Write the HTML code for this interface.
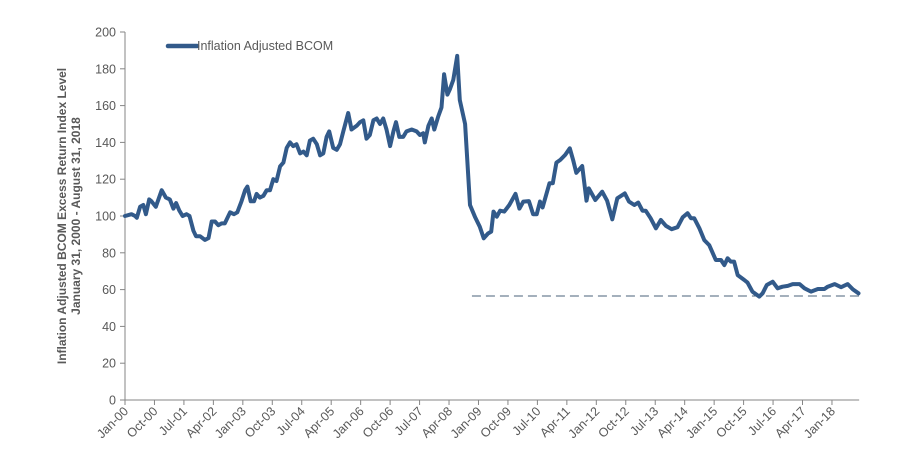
<!DOCTYPE html>
<html><head><meta charset="utf-8"><style>
html,body{margin:0;padding:0;background:#fff}
svg text{font-family:"Liberation Sans",sans-serif;fill:#595959}
</style></head><body>
<svg id="chart" width="920" height="467" viewBox="0 0 920 467" xmlns="http://www.w3.org/2000/svg">
<g id="axes"></g>
<g id="series"></g>
<g>
<line x1="168" y1="46" x2="197" y2="46" stroke="#325a8a" stroke-width="4.5" stroke-linecap="round"/>
<text x="197" y="50" font-size="12.5">Inflation Adjusted BCOM</text>
</g>
<text transform="translate(66,216) rotate(-90)" text-anchor="middle" font-size="12" font-weight="bold">Inflation Adjusted BCOM Excess Return Index Level</text>
<text transform="translate(80,216) rotate(-90)" text-anchor="middle" font-size="12" font-weight="bold">January 31, 2000 - August 31, 2018</text>
</svg>
<script>
const months=[0,2,3.1,3.6,4.6,5.6,6.4,7.4,8.1,9.4,11.2,12.5,13.7,14.8,15.6,16.6,17.6,18.8,19.7,20.9,21.7,22.9,24.4,25.5,26.5,27.5,28.5,29.5,30.5,32.1,33.3,34.3,35.6,36.7,37.4,38.4,39.4,40.2,41.2,42.3,43.3,44.3,45.3,46.3,47.4,48.4,49.4,50.4,51.4,52.4,53.5,54.5,55.5,56.5,57.5,58.6,59.6,60.6,61.6,62.4,63.6,64.7,65.7,66.7,68.2,69.2,70.8,71.8,72.8,73.8,74.8,75.9,76.9,77.9,78.9,79.9,81,82,82.8,83.8,85,86,87.6,89.1,90.1,91.1,91.6,92.7,93.7,94.5,95.7,96.7,97.5,98.5,99.3,100.3,101.5,102.3,103.9,105.4,106.9,108.4,109.6,110.9,111.9,112.6,113.6,114.6,115.9,117.4,119.3,120.5,121.7,123.4,124.7,125.8,126.8,127.6,129.7,130.7,131.8,133,134.5,135.9,136.9,137.9,139.7,141,141.7,143.7,145.8,147.3,148.9,150.4,152.7,154,155.6,156.8,158.1,159.1,160.6,162.2,163.7,165.3,167,168.8,170.4,171.9,172.9,173.9,175.5,177,178.5,180.5,182.1,183.1,184.1,185.1,186.1,187.2,189.2,190.2,191.7,193.8,194.8,196.1,197.9,199.4,200.9,202.5,204,206.1,207.6,209.6,211.7,213.7,214.7,216.8,218.8,220.8,222.4,224.1];
const values=[100,101,100,99,105,106,101,109,108,105,114,110,109,104,107,103,100,101,100,92,89,89,87,88,97,97,95,96,96,102,101,102,108,114,116,108,108,112,110,111,114,114,120,119,127,129,137,140,138,139,134,135,133,141,142,139,133,134,143,146,137,136,139,146,156,147,149,151,152,142,144,152,153,150,153,147,138,146,151,143,143,146,147,146,144,145,140,149,153,147,154,159,177,166,169,174,187,163,150,106,99.6,94.2,87.9,90.5,91.5,102.4,99.6,102.9,102.4,106,112,104,107.8,108.1,101,101,107.8,104.7,117.8,117.8,129,130.5,133.2,136.8,130.5,123.5,127.2,108.3,115,108.7,113.2,108.3,98.2,109.6,112.3,107.8,106,107.3,102.9,102.9,98.8,93.3,97.8,94.6,92.8,93.9,99.3,101.5,98.8,98.8,93.3,86.9,84.2,76.1,76.1,73.3,77,75.2,75.2,67.9,65.2,63.8,58.9,56.2,58,62.5,64.3,60.7,61.6,62,63,63,60.7,58.9,60.3,60.3,61.6,63,61.3,63,60.1,58];
const yTicks=[0,20,40,60,80,100,120,140,160,180,200];
const xTickLabels=["Jan-00","Oct-00","Jul-01","Apr-02","Jan-03","Oct-03","Jul-04","Apr-05","Jan-06","Oct-06","Jul-07","Apr-08","Jan-09","Oct-09","Jul-10","Apr-11","Jan-12","Oct-12","Jul-13","Apr-14","Jan-15","Oct-15","Jul-16","Apr-17","Jan-18"];
const tickStepMonths=9;
const lastMonth=224;
const refLevel=56.5;
const refStartMonth=106;

const NS="http://www.w3.org/2000/svg";
const X0=125,PXM=3.273,Y0=400,PXV=1.84;
const xs=m=>X0+m*PXM, ys=v=>Y0-v*PXV;
const axes=document.getElementById('axes'), series=document.getElementById('series');
function mk(tag,attrs,parent){const e=document.createElementNS(NS,tag);for(const k in attrs)e.setAttribute(k,attrs[k]);parent.appendChild(e);return e;}

let e=mk('line',{x1:xs(0),y1:ys(0),x2:xs(0),y2:ys(200),stroke:'#868686','stroke-width':1},axes);


e=mk('line',{x1:xs(0),y1:ys(0),x2:xs(lastMonth)+1,y2:ys(0),stroke:'#868686','stroke-width':1},axes);


yTicks.forEach(v=>{
  const t=mk('line',{x1:xs(0)-5,y1:ys(v),x2:xs(0),y2:ys(v),stroke:'#868686'},axes);
  
  
  const l=mk('text',{x:xs(0)-9,y:ys(v)+4.5,'text-anchor':'end','font-size':12.5},axes);
  
  
  l.textContent=v;
});
xTickLabels.forEach((s,i)=>{
  const x=xs(i*tickStepMonths);
  const t=mk('line',{x1:x,y1:ys(0),x2:x,y2:ys(0)+5,stroke:'#868686'},axes);
  
  
  const l=mk('text',{transform:`translate(${x+4},${ys(0)+12}) rotate(-45)`,'text-anchor':'end','font-size':12.5},axes);
  
  
  l.textContent=s;
});
e=mk('line',{x1:xs(refStartMonth),y1:ys(refLevel),x2:xs(lastMonth)+5,y2:ys(refLevel),stroke:'#4a6178','stroke-width':1,'stroke-dasharray':'9,5'},series);


const d=months.map((m,i)=>(i?'L':'M')+xs(m).toFixed(1)+','+ys(values[i]).toFixed(1)).join('');
e=mk('path',{d:d,fill:'none',stroke:'#325a8a','stroke-width':4,'stroke-linejoin':'round','stroke-linecap':'round'},series);


</script>
</body></html>
